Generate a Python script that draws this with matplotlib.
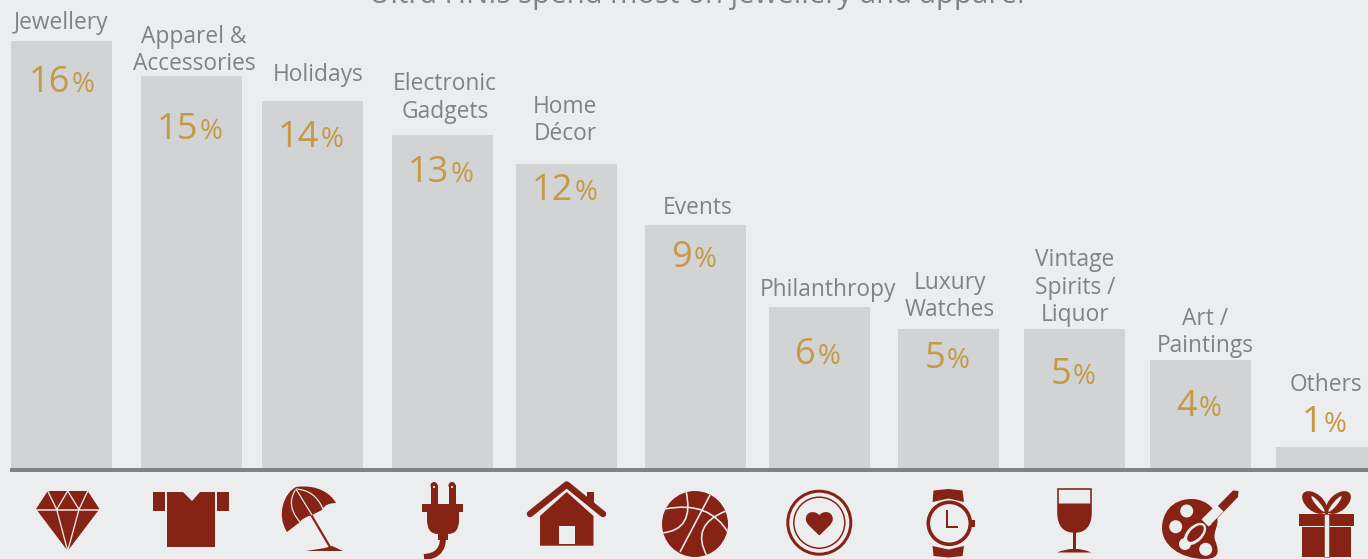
from __future__ import annotations

import matplotlib
matplotlib.use("Agg")
import matplotlib.pyplot as plt
import numpy as np
from matplotlib.patches import Circle, Ellipse, PathPatch, Polygon, Rectangle
from matplotlib.path import Path

plt.rcParams["font.family"] = ["Open Sans", "DejaVu Sans"]

TITLE = "Ultra HNIs spend most on jewellery and apparel"
CATEGORIES = [
    ["Jewellery"],
    ["Apparel &", "Accessories"],
    ["Holidays"],
    ["Electronic", "Gadgets"],
    ["Home", "Décor"],
    ["Events"],
    ["Philanthropy"],
    ["Luxury", "Watches"],
    ["Vintage", "Spirits /", "Liquor"],
    ["Art /", "Paintings"],
    ["Others"],
]
SHARE_LABELS = [16, 15, 14, 13, 12, 9, 6, 5, 5, 4, 1]
# drawn bar heights, the bars in the graphic are not strictly to scale with the labels
BAR_HEIGHTS = [16.0, 14.7, 13.75, 12.47, 11.4, 9.1, 6.04, 5.2, 5.2, 4.05, 0.8]

BAR_LEFT = [11, 141, 262, 392, 516, 645, 769, 898, 1024, 1150, 1276]
BAR_WIDTH = 101
LABEL_X = [61, 194, 318, 445, 565, 698, 828, 950, 1075, 1205, 1326]
LABEL_BASE = [29, 43, 81, 90, 113, 214, 296, 289, 266, 325, 391]
NUM_SPLIT_X = [70, 198, 319, 449, 573, 692, 816, 945, 1071, 1197, 1322]
NUM_BASE = [92, 139, 147, 182, 200, 267, 364, 368, 384, 416, 432]

BG = "#ECEDEF"
BAR = "#D1D3D4"
GREY = "#808285"
GOLD = "#C49A45"
RED = "#862314"

WIDTH_PX, HEIGHT_PX = 1368, 559
BASE_Y = 468
PX_PER_UNIT = 26.7


def poly(ax, pts, color=RED, **kw):
    ax.add_patch(Polygon(pts, closed=True, facecolor=color, edgecolor="none", **kw))


def stroke(ax, pts, lw, color=BG, cap="butt", join="miter"):
    xs, ys = zip(*pts)
    ax.plot(xs, ys, color=color, lw=lw * 0.72, solid_capstyle=cap, solid_joinstyle=join)


def curve(ax, pts, lw, color=BG, clip=None):
    # quadratic bezier through control points, pts has length 3 or 4
    codes = [Path.MOVETO] + ([Path.CURVE3] * 2 if len(pts) == 3 else [Path.CURVE4] * 3)
    patch = PathPatch(Path(pts, codes), facecolor="none", edgecolor=color, lw=lw * 0.72)
    ax.add_patch(patch)
    if clip is not None:
        patch.set_clip_path(clip)


def blob(ax, verts, codes, color=RED):
    patch = PathPatch(Path(verts, codes), facecolor=color, edgecolor="none")
    ax.add_patch(patch)
    return patch


def icon_diamond(ax):
    poly(ax, [(47.7, 491), (87.7, 491), (99.5, 509), (67.7, 551), (36, 509)])
    stroke(ax, [(36, 509.5), (99.5, 509.5)], 1.5)
    stroke(ax, [(47.7, 491), (56.7, 509.5), (67.7, 491), (79, 509.5), (87.7, 491)], 1.3)
    stroke(ax, [(56.7, 509.5), (67.7, 551), (79, 509.5)], 1.3)


def icon_shirt(ax):
    poly(ax, [(167, 492), (183, 492), (192, 501), (200, 492), (215, 492), (215, 547), (167, 547)])
    ax.add_patch(Rectangle((153, 492), 12, 19, facecolor=RED, edgecolor="none"))
    ax.add_patch(Rectangle((217, 492), 12, 19, facecolor=RED, edgecolor="none"))


def icon_umbrella(ax):
    verts = [(296, 487), (318, 484), (331, 494), (336, 503),
             (325, 503), (322, 510), (312, 515),
             (302, 518), (300, 522), (287, 532),
             (276, 515), (284, 493), (296, 487), (296, 487)]
    codes = [Path.MOVETO, Path.CURVE4, Path.CURVE4, Path.CURVE4,
             Path.CURVE3, Path.CURVE3, Path.LINETO,
             Path.CURVE3, Path.CURVE3, Path.LINETO,
             Path.CURVE4, Path.CURVE4, Path.CURVE4, Path.CLOSEPOLY]
    blob(ax, verts, codes)
    stroke(ax, [(296, 489), (330, 547)], 2.2, color=RED)
    stroke(ax, [(296, 489), (312, 515)], 1.2)
    curve(ax, [(296, 489), (315, 490), (323, 509)], 1.2)
    curve(ax, [(296, 489), (285, 505), (300, 522)], 1.2)
    poly(ax, [(306, 551), (325, 548), (332, 546), (343, 551), (306, 551)])


def icon_plug(ax):
    for x in (430.5, 448.5):
        ax.add_patch(Rectangle((x, 485), 7, 20, facecolor=RED, edgecolor="none"))
        ax.add_patch(Circle((x + 3.5, 485.5), 3.5, facecolor=RED, edgecolor="none"))
        ax.add_patch(Circle((x + 3.5, 487), 1.1, facecolor=BG, edgecolor="none"))
    ax.add_patch(Rectangle((422, 504), 41, 8, facecolor=RED, edgecolor="none"))
    verts = [(427, 512), (459, 512), (459, 520), (459, 534), (448, 534), (448, 540),
             (438, 540), (438, 534), (427, 534), (427, 520), (427, 512)]
    codes = [Path.MOVETO, Path.LINETO, Path.LINETO, Path.CURVE3, Path.CURVE3, Path.LINETO,
             Path.LINETO, Path.LINETO, Path.CURVE3, Path.CURVE3, Path.CLOSEPOLY]
    blob(ax, verts, codes)
    curve(ax, [(443, 538), (443, 556), (424, 557)], 6, color=RED)


def icon_house(ax):
    stroke(ax, [(530, 514), (566.7, 484.5), (603, 514)], 6.5, color=RED, cap="round", join="round")
    ax.add_patch(Rectangle((586.7, 491.5), 7.5, 11, facecolor=RED, edgecolor="none"))
    poly(ax, [(540, 545.7), (540, 516), (566.7, 492), (593.5, 516), (593.5, 545.7)])
    ax.add_patch(Rectangle((559.3, 526), 15.5, 18, facecolor=BG, edgecolor="none"))


def icon_ball(ax):
    cx, cy, r = 695, 524, 33
    disc = Circle((cx, cy), r, facecolor=RED, edgecolor="none")
    ax.add_patch(disc)
    curve(ax, [(665, 509), (710, 500), (729, 534)], 1.6, clip=disc)
    stroke(ax, [(710, 495), (680, 552)], 1.6)
    curve(ax, [(686, 491), (695, 530), (662, 533)], 1.6, clip=disc)
    curve(ax, [(726, 511), (690, 525), (707, 556)], 1.6, clip=disc)


def heart(ax, cx, cy, w, h):
    t = np.array([
        (0, -0.62), (-0.25, -1.0), (-1.0, -1.0), (-1.0, -0.3),
        (-1.0, 0.1), (-0.45, 0.5), (0, 1.0),
        (0.45, 0.5), (1.0, 0.1), (1.0, -0.3),
        (1.0, -1.0), (0.25, -1.0), (0, -0.62),
    ])
    verts = [(cx + x * w / 2, cy + y * h / 2) for x, y in t]
    codes = [Path.MOVETO] + [Path.CURVE4] * 12
    blob(ax, verts, codes)


def icon_heart(ax):
    cx, cy = 819.3, 522.7
    ax.add_patch(Circle((cx, cy), 31.5, facecolor="none", edgecolor=RED, lw=3 * 0.72))
    ax.add_patch(Circle((cx, cy), 25.5, facecolor="none", edgecolor=RED, lw=1.5 * 0.72))
    heart(ax, cx, 523, 27, 25)


def icon_watch(ax):
    cx, cy = 949.3, 523.3
    ax.add_patch(Circle((cx, cy), 21, facecolor="none", edgecolor=RED, lw=3.6 * 0.72))
    ax.add_patch(Rectangle((971, 519.5), 3.5, 7.5, facecolor=RED, edgecolor="none"))
    stroke(ax, [(946.7, 510), (946.7, 527.3), (958.3, 527.3)], 2, color=RED)
    poly(ax, [(933.5, 490.5), (948.5, 489), (962.5, 490.5), (964, 502), (948.5, 498.5), (932.5, 502)])
    poly(ax, [(932.5, 546), (948.5, 549.5), (964, 546), (962.5, 556), (948.5, 557.5), (933.5, 556)])


def icon_wine(ax):
    outline = [(1058, 489), (1091, 489), (1091, 512), (1091, 532), (1074.5, 532),
               (1058, 532), (1058, 512), (1058, 489)]
    codes = [Path.MOVETO, Path.LINETO, Path.LINETO, Path.CURVE3, Path.CURVE3,
             Path.CURVE3, Path.CURVE3, Path.CLOSEPOLY]
    ax.add_patch(PathPatch(Path(outline, codes), facecolor="none", edgecolor=RED, lw=1.6 * 0.72))
    verts = [(1058, 503.5), (1091, 503.5), (1091, 512), (1091, 532), (1074.5, 532),
             (1058, 532), (1058, 512), (1058, 503.5)]
    blob(ax, verts, codes)
    ax.add_patch(Rectangle((1073, 531), 3.2, 18, facecolor=RED, edgecolor="none"))
    verts = [(1057, 552.5), (1074.5, 545), (1091.5, 552.5), (1057, 552.5)]
    codes = [Path.MOVETO, Path.CURVE3, Path.CURVE3, Path.CLOSEPOLY]
    blob(ax, verts, codes)


def icon_palette(ax):
    verts = [(1192, 499), (1170, 499), (1162, 515), (1162, 528),
             (1162, 545), (1180, 559), (1205, 559),
             (1222, 559), (1218, 548), (1215, 540),
             (1212, 530), (1222, 525), (1215, 512),
             (1210, 503), (1200, 499), (1192, 499)]
    codes = [Path.MOVETO] + [Path.CURVE4] * 15
    blob(ax, verts, codes)
    for x, y, r in [(1186.7, 511, 6.5), (1175.7, 526.7, 6.5), (1185, 544, 6), (1205.7, 549.3, 6.5)]:
        ax.add_patch(Circle((x, y), r, facecolor=BG, edgecolor="none"))
    # brush with a light outline around it
    stroke(ax, [(1220, 508), (1205, 523)], 10, color=BG)
    poly(ax, [(1233, 490.5), (1238.5, 491), (1238, 497), (1211, 525), (1205, 519)])
    stroke(ax, [(1204, 518), (1211, 525)], 1.3)
    ax.add_patch(Ellipse((1195, 534), 27, 16, angle=-45, facecolor=BG, edgecolor="none"))
    ax.add_patch(Ellipse((1195.5, 533.5), 21, 10.5, angle=-45, facecolor=RED, edgecolor="none"))


def icon_gift(ax):
    ax.add_patch(Rectangle((1299, 514), 55, 11.7, facecolor=RED, edgecolor="none"))
    ax.add_patch(Rectangle((1302, 527), 49, 29.7, facecolor=RED, edgecolor="none"))
    ax.add_patch(Ellipse((1314.5, 502.5), 29, 17, angle=40, facecolor=RED, edgecolor="none"))
    ax.add_patch(Ellipse((1338.5, 502.5), 29, 17, angle=-40, facecolor=RED, edgecolor="none"))
    poly(ax, [(1326.5, 515), (1316, 505), (1337, 505)])
    ax.add_patch(Ellipse((1318, 504), 20, 4, angle=50, facecolor=BG, edgecolor="none"))
    ax.add_patch(Ellipse((1335, 504), 20, 4, angle=-50, facecolor=BG, edgecolor="none"))
    ax.add_patch(Rectangle((1324, 514), 5, 43, facecolor=BG, edgecolor=RED, lw=0.4))


ICONS = [icon_diamond, icon_shirt, icon_umbrella, icon_plug, icon_house, icon_ball,
         icon_heart, icon_watch, icon_wine, icon_palette, icon_gift]


def main() -> None:
    fig = plt.figure(figsize=(WIDTH_PX / 100, HEIGHT_PX / 100), dpi=100, facecolor=BG)

    # bars live on their own axes, y in share units, baseline at BASE_Y pixels
    ax = fig.add_axes([0, 0, 1, 1], facecolor=BG)
    ax.set_xlim(0, WIDTH_PX)
    ax.set_ylim(-(HEIGHT_PX - BASE_Y) / PX_PER_UNIT, BASE_Y / PX_PER_UNIT)
    ax.bar(BAR_LEFT, BAR_HEIGHTS, width=BAR_WIDTH, align="edge", color=BAR, linewidth=0)
    ax.axis("off")

    # overlay in picture pixels for text and icons
    pix = fig.add_axes([0, 0, 1, 1], facecolor="none")
    pix.set_xlim(0, WIDTH_PX)
    pix.set_ylim(HEIGHT_PX, 0)
    pix.axis("off")

    pix.add_patch(Rectangle((10, 468), WIDTH_PX - 10, 4, facecolor=GREY, edgecolor="none"))
    pix.text(697, 3, TITLE, color=GREY, fontsize=21.2, ha="center", va="baseline", clip_on=False)

    for lines, x, base in zip(CATEGORIES, LABEL_X, LABEL_BASE):
        for j, line in enumerate(lines):
            pix.text(x, base + j * 27.5, line, color=GREY, fontsize=16.4, ha="center", va="baseline")

    for share, split, base in zip(SHARE_LABELS, NUM_SPLIT_X, NUM_BASE):
        pix.text(split, base, str(share), color=GOLD, fontsize=26, ha="right", va="baseline")
        pix.text(split + 1.5, base, "%", color=GOLD, fontsize=20, ha="left", va="baseline")

    for draw in ICONS:
        draw(pix)

    pix.set_xlim(0, WIDTH_PX)
    pix.set_ylim(HEIGHT_PX, 0)
    fig.savefig("out.png", dpi=100, facecolor=BG)
    plt.close(fig)


if __name__ == "__main__":
    main()
